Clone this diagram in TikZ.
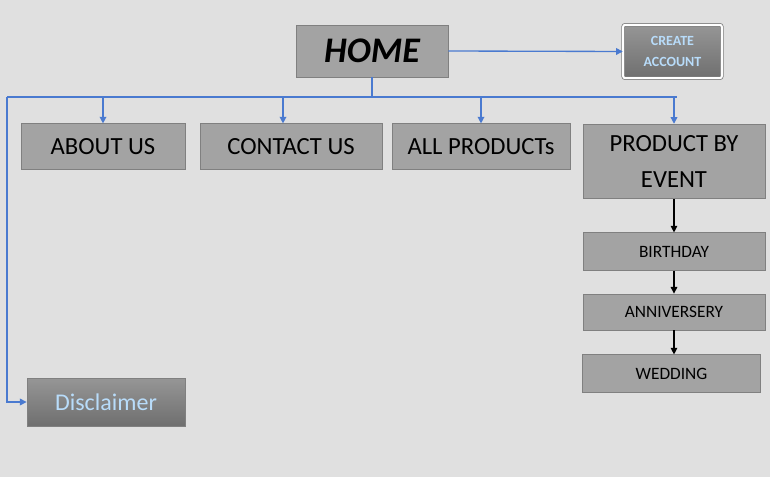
\documentclass[tikz,border=0pt]{standalone}
\usepackage{fontspec}
\setmainfont{Carlito}
\usetikzlibrary{arrows.meta,positioning}
\definecolor{fondogris}{RGB}{224,224,224}
\definecolor{cajagris}{RGB}{163,163,163}
\definecolor{bordegris}{RGB}{128,128,128}
\definecolor{lineaazul}{RGB}{74,122,208}
\definecolor{textoazul}{RGB}{184,220,250}

\begin{document}
\begin{tikzpicture}[x=0.75pt, y=-0.75pt,
    caja/.style={draw=bordegris, fill=cajagris, line width=0.6pt, inner sep=0pt, align=center},
    cajaosc/.style={caja, top color=cajagris!92!black, bottom color=cajagris!68!black, text=textoazul},
    conector/.style={lineaazul, line width=1pt},
    flecha/.style={conector, -{Triangle[length=5pt,width=5pt]}},
    flechanegra/.style={black, line width=0.8pt, -{Triangle[length=5pt,width=5pt]}}]
        \fill[fondogris] (0,0) rectangle (770,477);
        % cajas principales
        \node[caja, minimum width=114pt, minimum height=39pt, font=\fontsize{27}{27}\selectfont\bfseries\itshape] (home) at (372,51) {HOME};
        \node[cajaosc, minimum width=74pt, minimum height=40pt, rounded corners=1.5pt, double=white, double distance=1.5pt, font=\fontsize{10.5}{16}\selectfont\bfseries] (crear) at (672.5,51.5) {CREATE\\ACCOUNT};
        \node[caja, minimum width=123pt, minimum height=34pt, font=\fontsize{18.5}{18.5}\selectfont] (nosotros) at (103,146.5) {ABOUT US};
        \node[caja, minimum width=136.5pt, minimum height=34pt, font=\fontsize{18.5}{18.5}\selectfont] (contacto) at (291,146.5) {CONTACT US};
        \node[caja, minimum width=133.5pt, minimum height=34pt, font=\fontsize{18.5}{18.5}\selectfont] (productos) at (481,146.5) {ALL PRODUCTs};
        \node[caja, minimum width=136.5pt, minimum height=56pt, font=\fontsize{18.5}{27}\selectfont] (evento) at (674,161.5) {PRODUCT BY\\EVENT};
        % sub cajas por evento
        \node[caja, minimum width=136.5pt, minimum height=28pt, font=\fontsize{13}{13}\selectfont] (cumple) at (674,251.5) {BIRTHDAY};
        \node[caja, minimum width=136.5pt, minimum height=27pt, font=\fontsize{13}{13}\selectfont] (aniversario) at (674,312) {ANNIVERSERY};
        \node[caja, minimum width=133pt, minimum height=28pt, font=\fontsize{13}{13}\selectfont] (boda) at (671.5,373.5) {WEDDING};
        \node[cajaosc, minimum width=118.5pt, minimum height=36pt, font=\fontsize{18}{18}\selectfont] (aviso) at (106,402) {Disclaimer};
        % barra azul
        \coordinate (barraizq) at (7,97);
        \coordinate (barrader) at (677,97);
        \draw[conector] (home.south) -- (home.south |- barraizq);
        \draw[conector] (barraizq) -- (barrader);
        \draw[flecha] (nosotros.north |- barraizq) -- (nosotros.north);
        \draw[flecha] ([xshift=-6pt]contacto.north |- barraizq) -- ([xshift=-6pt]contacto.north);
        \draw[flecha] (productos.north |- barraizq) -- (productos.north);
        \draw[flecha] (evento.north |- barraizq) -- (evento.north);
        \draw[flecha] (barraizq) |- (aviso.west);
        \draw[flecha] (home.east) -- (crear.west);
        % flechas negras
        \draw[flechanegra] (evento.south) -- (cumple.north);
        \draw[flechanegra] (cumple.south) -- (aniversario.north);
        \draw[flechanegra] (aniversario.south) -- (aniversario.south |- boda.north);
\end{tikzpicture}
\end{document}
